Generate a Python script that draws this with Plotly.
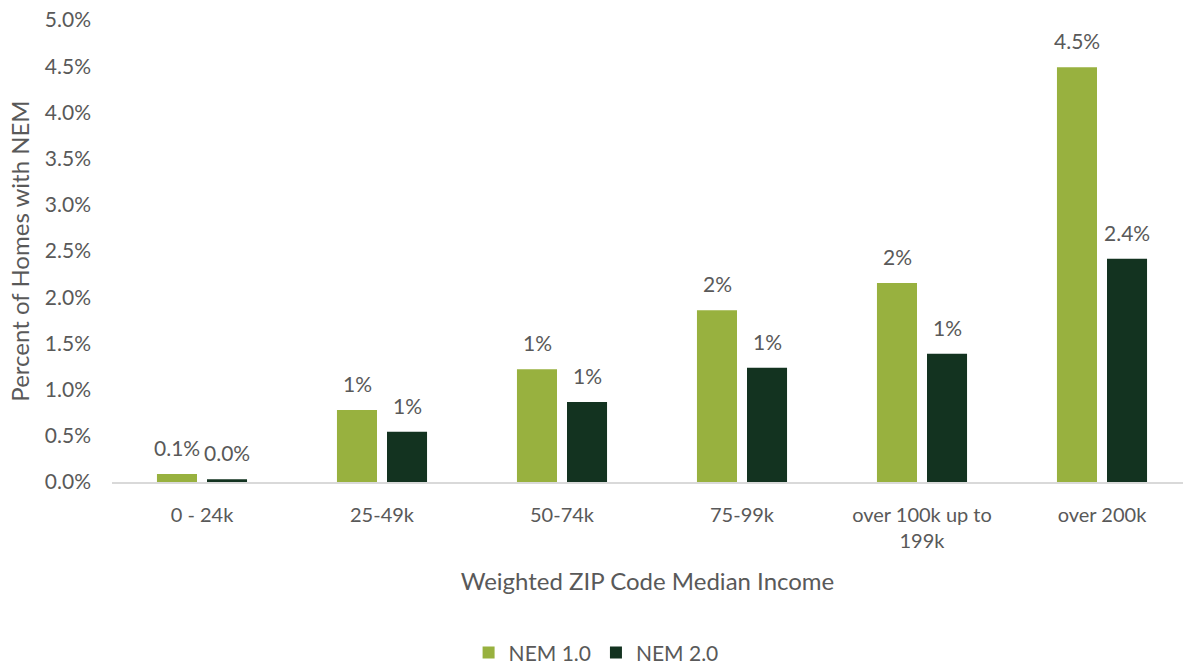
import plotly.graph_objects as go

# Income bands (x categories)
categories = ["0 - 24k", "25-49k", "50-74k", "75-99k", "over 100k up to<br>199k", "over 200k"]

# Share of homes with net energy metering, in percent
nem1_values = [0.087, 0.78, 1.22, 1.86, 2.154, 4.488]
nem2_values = [0.03, 0.544, 0.866, 1.237, 1.389, 2.417]

# Decimal places shown in each bar's data label
nem1_decimals = [1, 0, 0, 0, 0, 1]
nem2_decimals = [1, 0, 0, 0, 0, 1]

y_ticks = [0, 0.5, 1.0, 1.5, 2.0, 2.5, 3.0, 3.5, 4.0, 4.5, 5.0]

NEM1_COLOR = "#98B13F"
NEM2_COLOR = "#133320"
TEXT_COLOR = "#595959"
FONT = "Lato, 'Open Sans', sans-serif"

fig = go.Figure()
fig.add_trace(go.Bar(name="NEM 1.0", x=categories, y=nem1_values,
                     marker=dict(color=NEM1_COLOR, line=dict(width=0))))
fig.add_trace(go.Bar(name="NEM 2.0", x=categories, y=nem2_values,
                     marker=dict(color=NEM2_COLOR, line=dict(width=0))))

# Data labels above each bar
annotations = []
for series, decs, shift in ((nem1_values, nem1_decimals, -25), (nem2_values, nem2_decimals, 25)):
    for cat, v, d in zip(categories, series, decs):
        annotations.append(dict(
            x=cat, y=v, xref="x", yref="y", text=f"{v:.{d}f}%",
            showarrow=False, xshift=shift, yshift=12, yanchor="bottom",
            font=dict(family=FONT, size=21, color=TEXT_COLOR)))

fig.update_layout(
    width=1183, height=665,
    margin=dict(l=112, r=0, t=20, b=183, autoexpand=False),
    paper_bgcolor="white", plot_bgcolor="white",
    barmode="group", bargap=0.444, bargroupgap=0.2,
    font=dict(family=FONT, size=20, color=TEXT_COLOR),
    showlegend=True,
    legend=dict(orientation="h", x=0.452, xanchor="center", y=-0.37, yanchor="middle",
                font=dict(family=FONT, size=21, color=TEXT_COLOR),
                itemsizing="constant", traceorder="normal"),
    annotations=annotations,
)
fig.update_xaxes(
    range=[-0.5, 5.45], showgrid=False, showline=True, linecolor="#D9D9D9", linewidth=1.5,
    automargin=False,
    ticks="", ticklabelstandoff=14, tickfont=dict(family=FONT, size=20, color=TEXT_COLOR),
    title=dict(text="Weighted ZIP Code Median Income", standoff=22,
               font=dict(family=FONT, size=24, color=TEXT_COLOR)),
)
fig.update_yaxes(
    range=[0, 5.0], tickvals=y_ticks, ticktext=[f"{t:.1f}%" for t in y_ticks],
    showgrid=False, showline=False, zeroline=False, ticks="", ticklabelstandoff=20,
    automargin=False,
    tickfont=dict(family=FONT, size=21, color=TEXT_COLOR),
    title=dict(text="Percent of Homes with NEM", standoff=8,
               font=dict(family=FONT, size=24, color=TEXT_COLOR)),
)

fig.write_html("out.html")
